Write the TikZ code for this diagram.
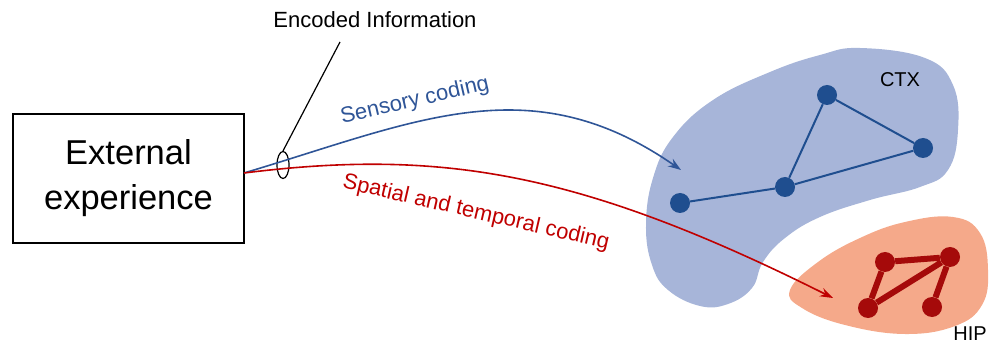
\documentclass[tikz,border=0pt]{standalone}
\usepackage{fontspec}
\setmainfont{Liberation Sans}
\usetikzlibrary{shapes.geometric,arrows.meta}
\definecolor{ctxfill}{HTML}{A7B5D9}
\definecolor{ctxnode}{HTML}{1F4E8F}
\definecolor{hipfill}{HTML}{F5A98A}
\definecolor{hipnode}{HTML}{A50A0A}
\definecolor{sensblue}{HTML}{2F5597}
\definecolor{spatred}{HTML}{C00000}
\tikzset{
  ctxdot/.style={circle, fill=ctxnode, minimum size=20pt, inner sep=0pt},
  hipdot/.style={circle, fill=hipnode, minimum size=20pt, inner sep=0pt},
  ctxedge/.style={ctxnode, line width=2pt},
  hipedge/.style={hipnode, line width=6pt},
  codearrow/.style={line width=1.6pt, -{Stealth[length=13pt,width=9pt]}},
  lbl/.style={font=\fontsize{22}{26}\selectfont, inner sep=0pt},
}
\begin{document}
\begin{tikzpicture}[x=1pt, y=-1pt]
\useasboundingbox (0,0) rectangle (993,347);

% cortex region
\fill[ctxfill] plot[smooth cycle, tension=0.7] coordinates {
  (860,48) (925,58) (953,85) (958,130) (948,170) (920,187) (870,200)
  (820,217) (785,238) (763,262) (752,288) (728,304) (700,306) (668,290)
  (652,265) (646,225) (653,178) (673,137) (713,100) (770,72) (820,55)};
% hippocampus region
\fill[hipfill] plot[smooth cycle, tension=0.7] coordinates {
  (790,290) (818,262) (860,238) (905,222) (953,217) (980,233) (988,270)
  (982,305) (955,326) (905,334) (845,325) (802,308)};

% external experience box
\node[draw, line width=1.6pt, minimum width=231pt, minimum height=129pt,
      align=center, font=\fontsize{34.5}{45}\selectfont] (ext) at (128.5,178.5)
  {External\\experience};
\coordinate (src) at (244,173);

% encoded information marker
\node[ellipse, draw, line width=1.2pt, minimum width=12pt, minimum height=27pt,
      inner sep=0pt] (enc) at (283,165) {};
\node[lbl] (enctxt) at (375,20) {Encoded Information};
\coordinate (lead) at (340,42);
\draw[line width=1.2pt] (enc.north) -- (lead);

% cortex network
\node[ctxdot] (a) at (680,203) {};
\node[ctxdot] (b) at (785,187) {};
\node[ctxdot] (c) at (827,95) {};
\node[ctxdot] (d) at (923,148) {};
\draw[ctxedge] (a) -- (b) -- (c) -- (d) -- (b);
\node[lbl, font=\fontsize{20}{24}\selectfont] (ctxlbl) at (900,80) {CTX};

% hippocampal network
\node[hipdot] (e) at (885,262) {};
\node[hipdot] (f) at (950,257) {};
\node[hipdot] (g) at (868,308) {};
\node[hipdot] (h) at (932,307) {};
\draw[hipedge] (g) -- (e) -- (f) -- (g);
\draw[hipedge] (f) -- (h);
\node[lbl, font=\fontsize{20}{24}\selectfont] (hiplbl) at (970,334) {HIP};

% coding pathways
\coordinate (sensend) at (681,170);
\coordinate (spatend) at (833,298);
\draw[codearrow, sensblue] (src) .. controls (415,122) and (530,65) .. (sensend);
\draw[codearrow, spatred] (src) .. controls (444,148) and (583,173) .. (spatend);
\node[lbl, text=sensblue, rotate=13] (senslbl) at (415,101) {Sensory coding};
\node[lbl, text=spatred, rotate=-13] (spatlbl) at (476,213) {Spatial and temporal coding};
\end{tikzpicture}
\end{document}
